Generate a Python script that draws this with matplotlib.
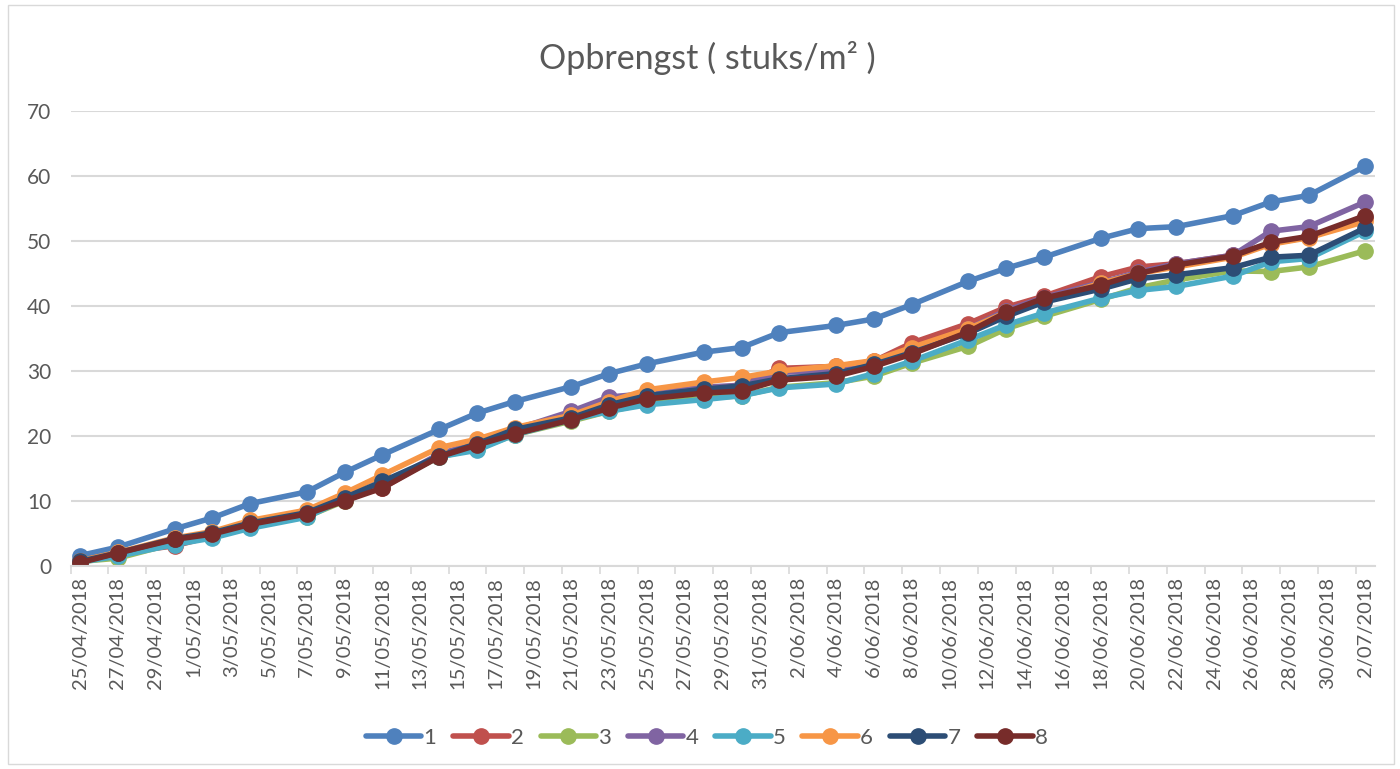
import pandas as pd
import matplotlib.pyplot as plt
from matplotlib.patches import Rectangle

# Measurement dates (Mon/Wed/Fri)
dates = ["2018-04-25", "2018-04-27", "2018-04-30", "2018-05-02", "2018-05-04",
         "2018-05-07", "2018-05-09", "2018-05-11", "2018-05-14", "2018-05-16",
         "2018-05-18", "2018-05-21", "2018-05-23", "2018-05-25", "2018-05-28",
         "2018-05-30", "2018-06-01", "2018-06-04", "2018-06-06", "2018-06-08",
         "2018-06-11", "2018-06-13", "2018-06-15", "2018-06-18", "2018-06-20",
         "2018-06-22", "2018-06-25", "2018-06-27", "2018-06-29", "2018-07-02"]

s1 = [1.6, 2.9, 5.7, 7.4, 9.6, 11.4, 14.4, 17.1, 21.0, 23.5, 25.3, 27.6, 29.6, 31.1, 32.9,
      33.6, 35.9, 37.0, 38.0, 40.2, 43.8, 45.8, 47.5, 50.4, 51.9, 52.2, 53.9, 56.0, 57.0, 61.5]
s2 = [0.8, 2.0, 3.1, 4.6, 6.3, 8.0, 10.3, 12.0, 17.0, 18.8, 20.8, 23.0, 24.8, 26.3, 27.2,
      27.8, 30.4, 30.7, 31.5, 34.3, 37.3, 39.8, 41.5, 44.5, 46.0, 46.5, 47.8, 49.6, 50.6, 53.5]
s3 = [0.7, 1.2, 3.5, 4.5, 6.0, 7.6, 10.0, 12.3, 16.8, 18.0, 20.2, 22.3, 23.8, 25.0, 25.8,
      26.2, 27.5, 28.2, 29.2, 31.2, 33.8, 36.5, 38.4, 41.0, 42.8, 44.0, 45.4, 45.3, 46.0, 48.5]
s4 = [0.8, 2.0, 4.2, 5.0, 6.5, 8.2, 10.5, 12.5, 17.2, 19.0, 21.0, 23.8, 26.0, 26.5, 27.5,
      27.8, 29.8, 30.0, 31.3, 33.0, 36.5, 39.3, 41.3, 43.6, 45.2, 46.5, 47.8, 51.5, 52.2, 56.0]
s5 = [0.6, 1.5, 3.3, 4.3, 5.8, 7.5, 10.3, 12.5, 16.8, 17.8, 20.2, 22.5, 23.8, 24.8, 25.6,
      26.2, 27.4, 28.0, 29.6, 31.5, 34.8, 37.1, 38.9, 41.2, 42.4, 43.0, 44.6, 46.8, 47.3, 51.5]
s6 = [0.8, 2.1, 4.3, 5.3, 7.0, 8.6, 11.2, 14.0, 18.2, 19.5, 21.3, 23.2, 25.3, 27.1, 28.3,
      29.0, 30.0, 30.8, 31.6, 33.6, 36.5, 39.0, 40.8, 43.5, 45.0, 46.0, 47.5, 49.5, 50.5, 53.0]
s7 = [0.7, 2.0, 4.2, 5.1, 6.6, 8.2, 10.5, 13.0, 16.9, 18.8, 21.0, 22.8, 24.8, 26.2, 27.2,
      27.7, 28.8, 29.6, 31.0, 32.8, 35.8, 38.4, 40.6, 42.6, 44.2, 44.8, 45.9, 47.5, 47.8, 52.0]
s8 = [0.5, 2.0, 4.1, 4.9, 6.4, 8.0, 10.0, 12.0, 16.8, 18.6, 20.3, 22.5, 24.3, 25.7, 26.6,
      26.9, 28.6, 29.2, 30.7, 32.6, 36.0, 39.0, 41.2, 43.2, 45.0, 46.3, 47.7, 49.8, 50.7, 53.9]

series = [s1, s2, s3, s4, s5, s6, s7, s8]
names = ["1", "2", "3", "4", "5", "6", "7", "8"]
colors = ["#4F81BD", "#C0504D", "#9BBB59", "#8064A2", "#4BACC6", "#F79646", "#2C4D75", "#772C2A"]

plt.rcParams["font.family"] = ["Lato", "DejaVu Sans"]
grey = "#595959"

d = pd.to_datetime(pd.Series(dates))
start = d.iloc[0]
x = (d - start).dt.days.values

fig = plt.figure(figsize=(14, 7.69), dpi=100)
ax = fig.add_axes([0.0504, 0.264, 0.9315, 0.5917])

for vals, name, c in zip(series, names, colors):
    ax.plot(x, vals, color=c, lw=4, marker="o", markersize=11,
            label=name, solid_capstyle="round")

# date axis, label every 2 days
ndays = x[-1]
ticks = list(range(0, ndays + 1, 2))
tick_labels = []
for t in ticks:
    dd = start + pd.Timedelta(days=t)
    tick_labels.append(f"{dd.day}/{dd:%m/%Y}")
ax.set_xticks(ticks)
ax.set_xticklabels(tick_labels, rotation=90, fontsize=14.5, color=grey)
ax.set_xticks([t - 0.5 for t in range(0, ndays + 2, 2)], minor=True)
ax.tick_params(axis="x", which="major", length=0, pad=8)
ax.tick_params(axis="x", which="minor", length=6, color="#D9D9D9", width=1.2)
ax.set_xlim(-0.5, ndays + 0.5)

ax.set_ylim(0, 70)
ax.set_yticks(range(0, 71, 10))
ax.tick_params(axis="y", length=0, labelsize=15, labelcolor=grey, pad=14)
ax.yaxis.grid(True, color="#D9D9D9", lw=1.5)
ax.set_axisbelow(True)
for s in ["top", "right", "left"]:
    ax.spines[s].set_visible(False)
ax.spines["bottom"].set_color("#D9D9D9")
ax.spines["bottom"].set_linewidth(1.5)

fig.text(0.505, 0.925, "Opbrengst ( stuks/m² )", ha="center", va="center",
         fontsize=24.5, color=grey)

fig.legend(loc="center", bbox_to_anchor=(0.505, 0.04), ncol=8, frameon=False,
           fontsize=16, labelcolor=grey, handlelength=2.5, handletextpad=0.1,
           columnspacing=0.75)

fig.patches.append(Rectangle((0.006, 0.006), 0.99, 0.988, transform=fig.transFigure,
                             fill=False, edgecolor="#D9D9D9", lw=1))

fig.savefig("out.png", dpi=100)
